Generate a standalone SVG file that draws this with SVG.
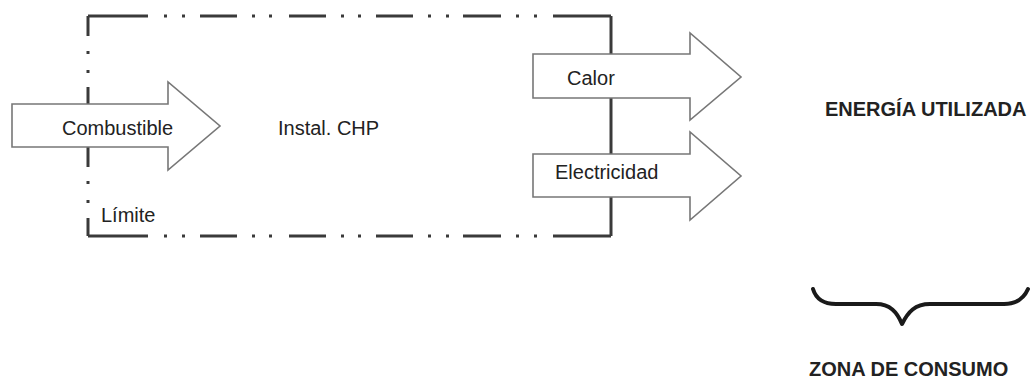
<svg xmlns="http://www.w3.org/2000/svg" width="1036" height="381" viewBox="0 0 1036 381">
<style>
.bnd{fill:none;stroke:#3a3a3a;stroke-width:3}
.arr{fill:#fff;stroke:#777;stroke-width:1.6;stroke-linejoin:miter}
.lbl{font-family:"Liberation Sans",Arial,sans-serif;font-size:20px;fill:#222}
.ttl{font-family:"Liberation Sans",Arial,sans-serif;font-size:20px;font-weight:bold;fill:#222}
.brace{fill:none;stroke:#1a1a1a;stroke-width:4;stroke-linecap:round;stroke-linejoin:round}
</style>
<rect width="1036" height="381" fill="#fff"/>
<g id="boundary">
<path class="bnd" d="M88,16 H148 M164,16 H167 M182,16 H185 M200,16 H237 M252,16 H255 M269,16 H272 M289,16 H326 M341,16 H344 M358,16 H361 M376,16 H413 M428,16 H431 M446,16 H449 M463,16 H501 M516,16 H519 M534,16 H537 M553,16 H611"/>
<path class="bnd" d="M88,236 H148 M164,236 H167 M182,236 H185 M200,236 H237 M252,236 H255 M269,236 H272 M289,236 H326 M341,236 H344 M358,236 H361 M376,236 H413 M428,236 H431 M446,236 H449 M463,236 H501 M516,236 H519 M534,236 H537 M553,236 H611"/>
<path class="bnd" d="M88,16 V36 M88,51 V54 M88,70 V73 M88,87 V167 M88,181 V184 M88,200 V203 M88,218 V236"/>
<path class="bnd" d="M611,16 V236"/>
</g>
<g id="connectors">
<g id="arrow-combustible"><path class="arr" d="M12,104 H168 V82 L220,126 L168,170 V147 H12 Z"/></g>
<g id="arrow-calor"><path class="arr" d="M533,54 H690 V33 L741,77 L690,120 V98 H533 Z"/></g>
<g id="arrow-electricidad"><path class="arr" d="M533,154 H690 V132 L741,176 L690,220 V197 H533 Z"/></g>
</g>
<g id="node-combustible"><text class="lbl" x="62" y="135">Combustible</text></g>
<g id="node-chp"><text class="lbl" x="278" y="135">Instal. CHP</text></g>
<g id="node-calor"><text class="lbl" x="567" y="85">Calor</text></g>
<g id="node-electricidad"><text class="lbl" x="555" y="179">Electricidad</text></g>
<g id="node-limite"><text class="lbl" x="101" y="222">Límite</text></g>
<g id="node-energia"><text class="ttl" x="825" y="116">ENERGÍA UTILIZADA</text></g>
<g id="node-brace"><path class="brace" d="M813,289 C816,299 823,304 836,304 L876,304 C890,304 897,312 902,324 C908,312 915,304 930,304 L1004,304 C1017,304 1024,298 1028,289"/></g>
<g id="node-zona"><text class="ttl" x="809" y="376">ZONA DE CONSUMO</text></g>
</svg>
